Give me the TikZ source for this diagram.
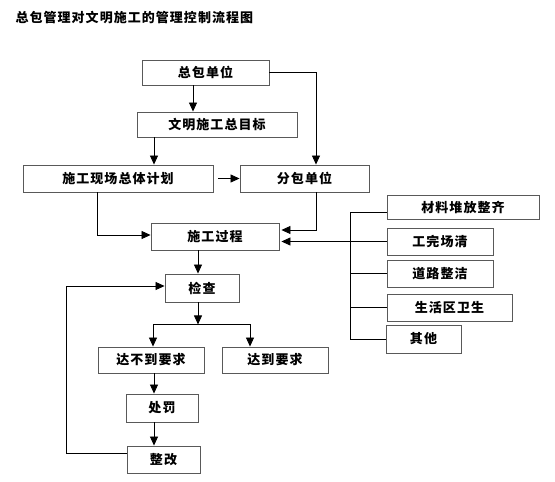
\documentclass[tikz,border=0pt]{standalone}
\usepackage{fontspec}
\newfontfamily\cjk[LetterSpace=8]{Noto Sans CJK SC}
\usetikzlibrary{arrows.meta}
\begin{document}
\begin{tikzpicture}[x=1pt,y=-1pt,
  box/.style={draw=black!65,line width=0.9pt,rectangle,inner sep=0pt,font=\cjk\fontsize{13}{13}\selectfont\bfseries},
  conn/.style={draw=black,line width=0.8pt},
  arr/.style={conn,-{Triangle[length=9pt,width=8pt]}},
]
\useasboundingbox (0,0) rectangle (555,482);
\node[anchor=west,font=\cjk\fontsize{13}{13}\selectfont\bfseries] (title) at (12,18) {总包管理对文明施工的管理控制流程图};
\node[box,minimum width=127pt,minimum height=25pt] (zb) at (205.5,72.5) {总包单位};
\node[box,minimum width=160pt,minimum height=25pt] (mb) at (217,124.5) {文明施工总目标};
\node[box,minimum width=190pt,minimum height=27pt] (jh) at (118,178.5) {施工现场总体计划};
\node[box,minimum width=129pt,minimum height=27pt] (fb) at (304.5,178.5) {分包单位};
\node[box,minimum width=128pt,minimum height=27pt] (gc) at (215,236.5) {施工过程};
\node[box,minimum width=74pt,minimum height=28pt] (jc) at (202,288) {检查};
\node[box,minimum width=106pt,minimum height=26pt] (bd) at (151,360) {达不到要求};
\node[box,minimum width=106pt,minimum height=26pt] (dd) at (275,360) {达到要求};
\node[box,minimum width=72pt,minimum height=28pt] (cf) at (162,408) {处罚};
\node[box,minimum width=73pt,minimum height=27pt] (zg) at (163.5,459.5) {整改};
\node[box,minimum width=152pt,minimum height=24pt] (r1) at (463,207) {材料堆放整齐};
\node[box,minimum width=106pt,minimum height=27pt] (r2) at (440,241.5) {工完场清};
\node[box,minimum width=106pt,minimum height=27pt] (r3) at (440,273.5) {道路整洁};
\node[box,minimum width=125pt,minimum height=27pt] (r4) at (449.5,307.5) {生活区卫生};
\node[box,minimum width=75pt,minimum height=28pt] (r5) at (423.5,339) {其他};
% connectors
\draw[arr] ([xshift=-12.5pt]zb.south) -- ([xshift=-12.5pt]zb.south |- mb.north);
\draw[arr] (zb.east) -| ([xshift=11.5pt]fb.north);
\draw[arr] ([xshift=-63pt]mb.south) -- ([xshift=-63pt]mb.south |- jh.north);
\draw[arr] ([xshift=5pt]jh.east) -- (fb.west);
\draw[arr] ([xshift=-21pt]jh.south) |- ([yshift=1.5pt]gc.west);
\draw[arr,shorten >=2pt] ([xshift=11.5pt]fb.south) |- ([yshift=6.5pt]gc.east);
\draw[arr,shorten >=2pt] (r2.west) -- (r2.west -| gc.east);
\draw[conn] ([yshift=-5pt]r1.west) -- ++(-36pt,0) coordinate (b1);
\draw[conn] (b1) -- (b1 |- r5.west) -- (r5.west);
\draw[conn] (b1 |- r3.west) -- (r3.west);
\draw[conn] (b1 |- r4.west) -- (r4.west);
\draw[arr] ([xshift=-17pt]gc.south) -- ([xshift=-17pt]gc.south |- jc.north);
\coordinate (sp) at ([xshift=-4pt,yshift=-22pt]jc.south);
\draw[arr] ([xshift=-4pt]jc.south) -- (sp);
\draw[arr] (sp) -| ([xshift=2pt]bd.north);
\draw[arr] (sp) -| ([xshift=-25pt]dd.north);
\draw[arr] ([xshift=3pt]bd.south) -- ([xshift=3pt]bd.south |- cf.north);
\draw[arr] ([xshift=-8pt]cf.south) -- ([xshift=-8pt]cf.south |- zg.north);
\draw[arr] ([yshift=6.5pt]zg.west) -- ++(-60pt,0) |- ([yshift=2pt]jc.west);
\end{tikzpicture}
\end{document}
